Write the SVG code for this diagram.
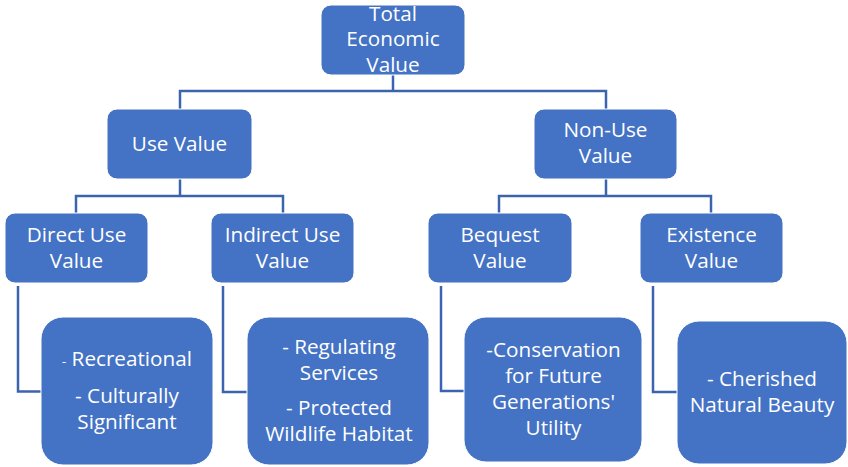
<svg xmlns="http://www.w3.org/2000/svg" width="848" height="467" viewBox="0 0 848 467">
<style>
.box{fill:#4472C4;stroke:#FFFFFF;stroke-width:1}
.t{font-family:"Open Sans","Liberation Sans",sans-serif;font-size:20.7px;fill:#FFFFFF;text-anchor:middle}
.small{font-size:13px}
.c{fill:none;stroke:#3C63AE;stroke-width:2.5}
</style>
<rect width="848" height="467" fill="#FFFFFF"/>
<g id="connectors">
<path class="c" d="M393 75 V91 M180 109 V91 H606 V109"/>
<path class="c" d="M180 179 V196 M76 213 V196 H283 V213"/>
<path class="c" d="M606 179 V196 M499 213 V196 H711 V213"/>
<path class="c" d="M18 286 V391.5 H41"/>
<path class="c" d="M223 286 V392 H247"/>
<path class="c" d="M441 286 V391 H464"/>
<path class="c" d="M653 286 V392 H677"/>
</g>
<g id="total">
<rect class="box" x="321" y="5" width="144" height="70" rx="10"/>
<text class="t" x="393" y="20.5"><tspan x="393">Total</tspan><tspan x="393" dy="25.8">Economic</tspan><tspan x="393" dy="25.8">Value</tspan></text>
</g>
<g id="use">
<rect class="box" x="107" y="109" width="145" height="70" rx="10"/>
<text class="t" x="179.5" y="150.5">Use Value</text>
</g>
<g id="nonuse">
<rect class="box" x="534" y="109" width="143" height="70" rx="10"/>
<text class="t" x="605.5" y="137"><tspan x="605.5">Non-Use</tspan><tspan x="605.5" dy="26">Value</tspan></text>
</g>
<g id="direct">
<rect class="box" x="5" y="213" width="143" height="70" rx="10"/>
<text class="t" x="76.5" y="241.5"><tspan x="76.5">Direct Use</tspan><tspan x="76.5" dy="26">Value</tspan></text>
</g>
<g id="indirect">
<rect class="box" x="211" y="213" width="143" height="70" rx="10"/>
<text class="t" x="282.5" y="241.5"><tspan x="282.5">Indirect Use</tspan><tspan x="282.5" dy="26">Value</tspan></text>
</g>
<g id="bequest">
<rect class="box" x="428" y="213" width="144" height="70" rx="10"/>
<text class="t" x="500" y="241.5"><tspan x="500">Bequest</tspan><tspan x="500" dy="26">Value</tspan></text>
</g>
<g id="existence">
<rect class="box" x="640" y="213" width="143" height="70" rx="10"/>
<text class="t" x="711.5" y="241.5"><tspan x="711.5">Existence</tspan><tspan x="711.5" dy="26">Value</tspan></text>
</g>
<g id="direct-examples">
<rect class="box" x="41" y="317" width="172" height="148" rx="22"/>
<text class="t" x="127" y="366"><tspan class="small">-</tspan> Recreational<tspan x="127" dy="36.5">- Culturally</tspan><tspan x="127" dy="26">Significant</tspan></text>
</g>
<g id="indirect-examples">
<rect class="box" x="247" y="317" width="182" height="148" rx="22"/>
<text class="t" x="339" y="353.5"><tspan x="339">- Regulating</tspan><tspan x="339" dy="26">Services</tspan><tspan x="339" dy="35.5">- Protected</tspan><tspan x="339" dy="26">Wildlife Habitat</tspan></text>
</g>
<g id="bequest-examples">
<rect class="box" x="464" y="317" width="178" height="145" rx="22"/>
<text class="t" x="553.5" y="356.5"><tspan x="553.5">-Conservation</tspan><tspan x="553.5" dy="26">for Future</tspan><tspan x="553.5" dy="26">Generations'</tspan><tspan x="553.5" dy="26">Utility</tspan></text>
</g>
<g id="existence-examples">
<rect class="box" x="677" y="321" width="170" height="143" rx="22"/>
<text class="t" x="762" y="386"><tspan x="762">- Cherished</tspan><tspan x="762" dy="26">Natural Beauty</tspan></text>
</g>
</svg>
